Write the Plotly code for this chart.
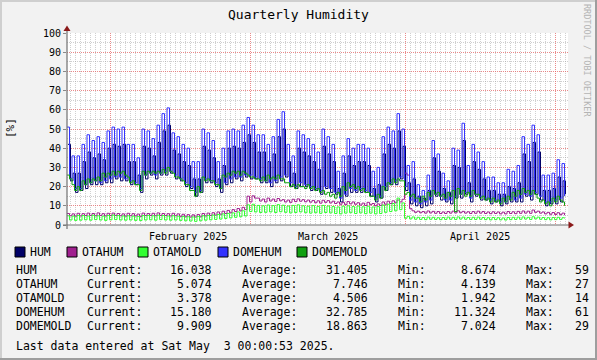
import pandas as pd
import plotly.graph_objects as go

# ---------------- data ----------------
T_START = "2025-01-23 09:36"
T_END = "2025-05-03 14:24"
MONTH_STARTS = ["2025-02-01", "2025-03-01", "2025-04-01", "2025-05-01"]
MONTH_LABELS = ["February 2025", "March 2025", "April 2025"]
MONTH_LABEL_POS = ["2025-02-16 12:00", "2025-03-16 12:00", "2025-04-16 00:00"]
Y_TICKS = [0, 10, 20, 30, 40, 50, 60, 70, 80, 90, 100]

# daily high / low samples (one pair per day)
DOMEHUM_HI = [51, 36, 36, 42, 47, 44, 46, 43, 49, 51,
              50, 51, 42, 42, 35, 50, 49, 45, 52, 58,
              61, 48, 46, 42, 40, 33, 33, 50, 48, 44,
              33, 40, 49, 50, 49, 52, 56, 52, 47, 47,
              42, 46, 55, 59, 42, 36, 49, 47, 45, 42,
              38, 50, 46, 42, 28, 36, 45, 40, 42, 42,
              40, 28, 30, 46, 51, 49, 58, 50, 31, 33,
              21, 18, 26, 44, 37, 27, 23, 40, 39, 53,
              31, 42, 38, 33, 25, 25, 22, 22, 29, 28,
              31, 46, 42, 52, 47, 26, 26, 27, 34, 32]
DOMEHUM_LO = [24, 19, 19, 21, 22, 23, 22, 23, 24, 25,
              25, 24, 23, 22, 19, 26, 27, 26, 27, 28,
              28, 26, 24, 22, 20, 17, 18, 24, 23, 22,
              19, 22, 24, 25, 25, 26, 26, 25, 24, 23,
              22, 23, 25, 26, 22, 20, 22, 21, 20, 19,
              18, 20, 19, 17, 14, 16, 19, 18, 19, 18,
              17, 14, 15, 20, 22, 23, 25, 20, 13, 12,
              11, 12, 13, 16, 15, 13, 13, 15, 16, 17,
              14, 16, 15, 14, 13, 13, 12, 12, 14, 13,
              14, 16, 15, 17, 15, 12, 12, 13, 14, 15]
HUM_HI = [42, 27, 27, 33, 38, 35, 37, 34, 40, 42,
          41, 42, 33, 33, 26, 41, 40, 36, 43, 49,
          52, 39, 37, 33, 31, 24, 24, 41, 39, 35,
          24, 31, 40, 41, 40, 43, 47, 43, 38, 38,
          33, 37, 46, 50, 33, 27, 40, 38, 36, 33,
          29, 41, 37, 33, 19, 27, 36, 31, 33, 33,
          31, 19, 21, 37, 42, 40, 49, 41, 22, 24,
          15, 14, 18, 35, 28, 19, 17, 31, 30, 44,
          22, 33, 29, 24, 18, 18, 16, 16, 20, 19,
          22, 37, 33, 43, 38, 18, 18, 19, 25, 23]
HUM_LO = [23, 17, 18, 19, 21, 21, 21, 22, 22, 24,
          23, 23, 21, 21, 17, 24, 26, 24, 26, 26,
          27, 24, 23, 20, 19, 15, 17, 22, 22, 20,
          17, 21, 22, 24, 23, 25, 24, 24, 22, 22,
          20, 22, 23, 25, 20, 19, 20, 20, 18, 18,
          16, 19, 17, 16, 12, 15, 17, 17, 17, 17,
          15, 12, 14, 18, 21, 21, 24, 18, 11, 10,
          9, 10, 11, 15, 13, 12, 11, 14, 14, 16,
          12, 15, 13, 13, 11, 12, 10, 11, 12, 12,
          12, 15, 13, 16, 13, 10, 11, 11, 12, 16]
OTAHUM_HI = [6.0, 5.8, 6.1, 5.9, 6.2, 6.0, 6.3, 5.9, 6.1, 6.2,
             6.0, 5.8, 6.1, 5.9, 5.7, 6.2, 6.0, 6.1, 6.3, 6.0,
             5.9, 6.1, 5.8, 5.6, 5.4, 5.3, 5.5, 6.0, 6.2, 6.4,
             6.8, 7.2, 7.6, 8.0, 8.6, 9.2, 15.0, 15.2, 14.0, 13.5,
             14.0, 13.5, 13.8, 13.2, 13.0, 13.4, 13.6, 13.2, 13.0, 12.8,
             12.6, 12.9, 12.7, 12.4, 12.0, 11.8, 12.2, 12.0, 11.6, 11.4,
             11.8, 11.2, 11.0, 12.0, 12.4, 12.6, 13.0, 13.4, 26.0, 7.4,
             7.2, 7.0, 7.3, 7.1, 7.0, 6.8, 7.0, 7.2, 7.4, 7.1,
             6.9, 7.0, 7.2, 7.0, 6.8, 6.9, 6.8, 6.7, 7.0, 6.9,
             7.1, 7.3, 7.2, 7.8, 7.2, 6.8, 6.6, 6.5, 6.4, 6.2]
OTAHUM_LO = [4.8, 4.6, 4.7, 4.9, 5.0, 4.8, 5.0, 4.7, 4.9, 5.0,
             4.8, 4.6, 4.8, 4.7, 4.5, 4.9, 5.0, 4.8, 5.0, 4.9,
             4.7, 4.8, 4.5, 4.3, 4.2, 4.2, 4.3, 4.7, 5.0, 5.2,
             5.6, 6.0, 6.4, 7.0, 7.4, 8.0, 12.0, 14.0, 12.5, 12.0,
             12.5, 12.3, 12.6, 12.0, 11.8, 12.2, 12.4, 12.1, 11.9, 11.6,
             11.4, 11.8, 11.5, 11.2, 10.8, 10.6, 11.0, 10.8, 10.4, 10.2,
             10.6, 10.0, 10.2, 10.8, 11.2, 11.6, 12.0, 27.0, 8.5, 6.6,
             6.4, 6.2, 6.3, 6.1, 6.0, 6.0, 6.2, 6.3, 6.4, 6.2,
             6.0, 6.1, 6.2, 6.0, 5.9, 6.0, 5.8, 5.8, 6.0, 5.9,
             6.1, 6.2, 6.1, 6.6, 6.2, 5.8, 5.6, 5.5, 5.4, 5.1]
OTAMOLD_HI = [4.8, 4.6, 5.0, 4.9, 4.7, 5.1, 4.8, 4.6, 5.0, 5.2,
              4.9, 4.7, 4.8, 4.6, 4.5, 4.9, 5.0, 4.8, 5.1, 4.9,
              4.7, 4.8, 4.6, 4.4, 4.3, 4.2, 4.5, 4.8, 5.0, 5.2,
              5.5, 5.8, 6.0, 6.3, 6.8, 7.4, 10.5, 10.8, 10.2, 10.0,
              10.4, 10.1, 10.6, 10.3, 9.9, 10.2, 10.5, 10.0, 9.8, 10.1,
              9.7, 10.2, 9.9, 9.6, 9.4, 9.8, 10.0, 9.6, 9.9, 9.5,
              9.8, 9.4, 9.6, 10.4, 10.8, 11.2, 14.0, 11.5, 4.5, 4.2,
              4.0, 3.9, 4.1, 4.0, 3.8, 3.9, 4.1, 4.0, 4.2, 4.1,
              3.9, 4.0, 4.1, 3.9, 3.8, 3.9, 3.8, 3.7, 3.9, 4.0,
              4.1, 4.2, 4.0, 4.3, 4.1, 3.9, 3.8, 3.9, 4.0, 3.8]
OTAMOLD_LO = [2.6, 2.4, 2.5, 2.7, 2.5, 2.8, 2.6, 2.4, 2.7, 2.8,
              2.6, 2.5, 2.6, 2.4, 2.3, 2.6, 2.7, 2.5, 2.8, 2.6,
              2.5, 2.6, 2.4, 2.2, 2.1, 1.9, 2.2, 2.5, 2.7, 2.9,
              3.1, 3.4, 3.7, 4.0, 4.3, 4.7, 7.0, 6.8, 6.5, 6.6,
              6.8, 6.5, 6.9, 6.6, 6.3, 6.5, 6.8, 6.4, 6.2, 6.4,
              6.1, 6.5, 6.3, 6.0, 5.8, 6.2, 6.4, 6.0, 6.3, 5.9,
              6.2, 5.8, 6.0, 6.6, 7.0, 7.4, 8.0, 3.5, 3.2, 3.0,
              2.9, 2.8, 3.0, 2.9, 2.8, 2.9, 3.0, 2.9, 3.1, 3.0,
              2.9, 2.9, 3.0, 2.8, 2.7, 2.8, 2.7, 2.6, 2.8, 2.9,
              3.0, 3.1, 2.9, 3.2, 3.0, 2.8, 2.7, 2.8, 2.9, 3.4]
DOMEMOLD_HI = [26, 21, 20, 23, 24, 24, 25, 27, 27, 28,
               28, 28, 25, 23, 21, 28, 28, 28, 28, 29,
               30, 27, 25, 23, 21, 18, 20, 25, 24, 23,
               21, 26, 27, 28, 28, 28, 26, 25, 24, 25,
               26, 25, 26, 24, 22, 21, 21, 20, 21, 20,
               19, 18, 17, 16, 17, 20, 22, 21, 20, 19,
               17, 15, 16, 20, 22, 24, 24, 23, 17, 16,
               14, 15, 17, 18, 17, 16, 17, 18, 19, 18,
               17, 18, 16, 15, 14, 14, 13, 14, 15, 17,
               18, 19, 18, 18, 14, 13, 12, 14, 15, 12]
DOMEMOLD_LO = [24, 18, 18, 21, 22, 23, 23, 25, 26, 26,
               27, 26, 22, 21, 18, 26, 27, 27, 27, 27,
               28, 25, 24, 21, 18, 15, 17, 23, 23, 21,
               19, 25, 26, 27, 26, 27, 25, 24, 23, 23,
               24, 24, 24, 22, 20, 19, 20, 19, 19, 18,
               17, 16, 15, 14, 15, 18, 20, 19, 18, 17,
               15, 13, 14, 18, 21, 22, 23, 16, 15, 14,
               12, 13, 15, 16, 15, 14, 15, 7, 16, 15,
               15, 16, 14, 13, 12, 12, 11, 12, 13, 15,
               16, 17, 16, 16, 12, 11, 10, 12, 13, 10]

SERIES = ["HUM", "OTAHUM", "OTAMOLD", "DOMEHUM", "DOMEMOLD"]
COLORS = ["#000066", "#A0208F", "#33FF33", "#3333FF", "#10A010"]
CURRENT = ["16.038", "5.074", "3.378", "15.180", "9.909"]
AVERAGE = ["31.405", "7.746", "4.506", "32.785", "18.863"]
MINIMUM = ["8.674", "4.139", "1.942", "11.324", "7.024"]
MAXIMUM = ["59", "27", "14", "61", "29"]
LAST_UPDATE = "Last data entered at Sat May \u00a03 00:00:53 2025."

# ---------------- figure ----------------
W, H = 597, 360
L, R, T, B = 67, 568, 33, 225
FONT = "DejaVu Sans Mono"


def px(x):
    return (x - L) / (R - L)


def py(y):
    return (B - y) / (B - T)


def pairs(hi, lo):
    out = []
    for a, b in zip(hi, lo):
        out += [a, b]
    return out


times = pd.date_range(T_START, periods=2 * len(DOMEHUM_HI), freq="12h")
times_hum = times + pd.Timedelta(hours=4.8)

series_data = {
    "HUM": (times_hum, pairs(HUM_HI, HUM_LO)),
    "OTAHUM": (times, pairs(OTAHUM_HI, OTAHUM_LO)),
    "OTAMOLD": (times, pairs(OTAMOLD_HI, OTAMOLD_LO)),
    "DOMEHUM": (times, pairs(DOMEHUM_HI, DOMEHUM_LO)),
    "DOMEMOLD": (times, pairs(DOMEMOLD_HI, DOMEMOLD_LO)),
}

fig = go.Figure()
for name, color in zip(SERIES, COLORS):
    xs, ys = series_data[name]
    fig.add_trace(go.Scatter(x=xs, y=ys, mode="lines", name=name,
                             line=dict(color=color, width=1, shape="hv"),
                             hoverinfo="skip", showlegend=False))

MAJOR = "rgba(255,80,80,0.55)"
MINOR = "rgba(150,150,150,0.45)"

fig.update_layout(
    width=W, height=H,
    margin=dict(l=L, r=W - R, t=T, b=H - B, pad=0),
    paper_bgcolor="#F2F2F2", plot_bgcolor="#FFFFFF",
    font=dict(family=FONT, color="#000000", size=10),
    hovermode=False,
    title=dict(text="Quarterly Humidity", x=0.5, xref="container",
               y=1 - 14 / H, yref="container", xanchor="center", yanchor="middle",
               font=dict(family=FONT, size=13, color="#000000")),
    xaxis=dict(type="date", range=[T_START, T_END],
               tickmode="array", tickvals=MONTH_STARTS, showticklabels=False,
               ticks="", showgrid=True, gridcolor=MAJOR, griddash="1px,1px",
               gridwidth=1, zeroline=False, showline=False,
               minor=dict(tickmode="linear", tick0="2025-01-01", dtick=86400000,
                          showgrid=True, gridcolor=MINOR, griddash="1px,1px",
                          gridwidth=1, ticks="")),
    yaxis=dict(range=[0, 100], tickmode="array", tickvals=Y_TICKS,
               ticktext=[str(v) for v in Y_TICKS],
               ticks="outside", ticklen=3, tickcolor="#888888",
               tickfont=dict(family=FONT, size=10, color="#000000"),
               showgrid=True, gridcolor=MAJOR, griddash="1px,1px", gridwidth=1,
               zeroline=False, showline=False,
               minor=dict(tickmode="linear", tick0=0, dtick=5, showgrid=True,
                          gridcolor=MINOR, griddash="1px,1px", gridwidth=1)),
)

shapes = []
# border (3D bevel)
shapes.append(dict(type="rect", xref="paper", yref="paper", x0=px(0), x1=px(W), y0=py(0), y1=py(2),
                   fillcolor="#CFCFCF", line=dict(width=0), layer="above"))
shapes.append(dict(type="rect", xref="paper", yref="paper", x0=px(0), x1=px(2), y0=py(0), y1=py(H),
                   fillcolor="#CFCFCF", line=dict(width=0), layer="above"))
shapes.append(dict(type="rect", xref="paper", yref="paper", x0=px(W - 2), x1=px(W), y0=py(0), y1=py(H),
                   fillcolor="#9E9E9E", line=dict(width=0), layer="above"))
shapes.append(dict(type="rect", xref="paper", yref="paper", x0=px(0), x1=px(W), y0=py(H - 2), y1=py(H),
                   fillcolor="#9E9E9E", line=dict(width=0), layer="above"))
# axes
shapes.append(dict(type="line", xref="paper", yref="paper", x0=px(63), x1=px(569), y0=0, y1=0,
                   line=dict(color="#707070", width=1.2), layer="above"))
shapes.append(dict(type="line", xref="paper", yref="paper", x0=0, x1=0, y0=py(229), y1=py(30),
                   line=dict(color="#707070", width=1.2), layer="above"))
# arrows
shapes.append(dict(type="path", xref="paper", yref="paper",
                   path=f"M {px(63.5)},{py(31)} L {px(70.5)},{py(31)} L {px(67)},{py(25.5)} Z",
                   fillcolor="#8B1A1A", line=dict(width=0), layer="above"))
shapes.append(dict(type="path", xref="paper", yref="paper",
                   path=f"M {px(568.5)},{py(221.5)} L {px(568.5)},{py(228.5)} L {px(574)},{py(225)} Z",
                   fillcolor="#8B1A1A", line=dict(width=0), layer="above"))

annotations = []


def text(x, y, s, anchor="left", size=11.5, color="#000000", angle=0, xref="paper"):
    annotations.append(dict(x=x, y=y, xref=xref, yref="paper", text=s, showarrow=False,
                            xanchor=anchor, yanchor="middle", textangle=angle,
                            borderpad=0, borderwidth=0,
                            font=dict(family=FONT, size=size, color=color)))


# month labels
for lab, pos in zip(MONTH_LABELS, MONTH_LABEL_POS):
    text(pos, py(236), lab, anchor="center", size=10, xref="x")

# y-axis unit and watermark
text(px(10), py(128), "[%]", anchor="center", size=11, angle=-90)
text(px(587), py(60), "RRDTOOL / TOBI OETIKER", anchor="center", size=8.5,
     color="#B4B4B4", angle=90)

# legend
LEG_BOX_X = [15, 67, 138, 218, 297]
for name, color, bx in zip(SERIES, COLORS, LEG_BOX_X):
    shapes.append(dict(type="rect", xref="paper", yref="paper",
                       x0=px(bx), x1=px(bx + 10), y0=py(257), y1=py(247),
                       fillcolor=color, line=dict(color="#000000", width=1), layer="above"))
    text(px(bx + 15), py(252), name)

# statistics table
ROW_Y = [270, 284, 298, 312, 326]
for i, name in enumerate(SERIES):
    y = py(ROW_Y[i])
    text(px(16), y, name)
    text(px(86.5), y, "Current:")
    text(px(211.5), y, CURRENT[i], anchor="right")
    text(px(242), y, "Average:")
    text(px(367.5), y, AVERAGE[i], anchor="right")
    text(px(397.5), y, "Min:")
    text(px(495.5), y, MINIMUM[i], anchor="right")
    text(px(525.5), y, "Max:")
    text(px(574.5), y, MAXIMUM[i])
text(px(16), py(346), LAST_UPDATE)

fig.update_layout(shapes=shapes, annotations=annotations)
fig.write_html("out.html", config={"displayModeBar": False, "staticPlot": True},
               post_script="document.body.style.margin='0';document.body.style.overflow='hidden';")
